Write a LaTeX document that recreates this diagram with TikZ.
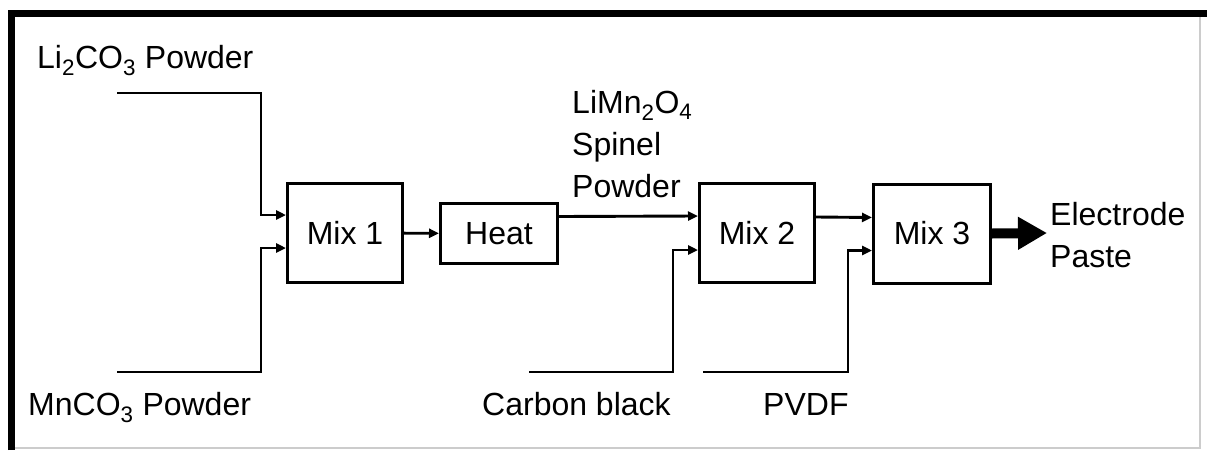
\documentclass[tikz,border=0pt]{standalone}
\usepackage{fontspec}
\setmainfont{Liberation Sans}
\usepackage{tikz}
\usetikzlibrary{arrows.meta,calc}

\begin{document}
\begin{tikzpicture}[x=1pt, y=-1pt,
  box/.style={draw, line width=3pt, minimum width=115pt, minimum height=99pt, inner sep=0pt},
  lab/.style={font=\fontsize{32}{42}\selectfont, inner sep=0pt, align=left},
  arr/.style={-{Triangle[length=10pt,width=9pt]}, line width=2.9pt},
  fat/.style={-{Triangle[length=29pt,width=31pt]}, line width=10pt}]
\useasboundingbox (0,0) rectangle (1207,450);
\tikzset{every node/.append style={font=\fontsize{32}{42}\selectfont}}
% frame
\draw[gray!40, line width=1.5pt] (1200,13) -- (1200,448) -- (11,448);
\draw[line width=6.7pt] (11.7,450) -- (11.7,13.3) -- (1207,13.3);
% process boxes
\node[box] (mix1) at (345,233) {Mix 1};
\node[box, minimum width=117pt, minimum height=60pt] (heat) at (499,233.5) {Heat};
\node[box] (mix2) at (757,233) {Mix 2};
\node[box, minimum width=117pt] (mix3) at (932,233.5) {Mix 3};
% labels
\node[lab, anchor=base west] (li)     at (37,68)   {Li\textsubscript{2}CO\textsubscript{3} Powder};
\node[lab, anchor=base west] (mn)     at (28,415)  {MnCO\textsubscript{3} Powder};
\node[lab, anchor=base west] (cb)     at (482,415) {Carbon black};
\node[lab, anchor=base west] (pvdf)   at (763,415) {PVDF};
\node[lab, anchor=base west] (spinel) at (572,197) {LiMn\textsubscript{2}O\textsubscript{4}\\Spinel\\Powder};
\node[lab, anchor=base west] (elec)   at (1050,267) {Electrode\\Paste};
% feed lines
\coordinate (li-in) at (117,93);
\coordinate (mn-in) at (117,372);
\coordinate (cb-in) at (529,372);
\coordinate (pv-in) at (703,372);
\draw[arr] (li-in) -| ($(mix1.west)+(-25,-18)$) -- ($(mix1.west)+(0,-18)$);
\draw[arr] (mn-in) -| ($(mix1.west)+(-25,15)$) -- ($(mix1.west)+(0,15)$);
\draw[arr] (mix1) -- (heat);
\draw[arr] ($(heat.east)+(0,-17)$) -- ($(mix2.west)+(0,-17)$);
\draw[arr] (cb-in) -| ($(mix2.west)+(-25,17)$) -- ($(mix2.west)+(0,17)$);
\draw[arr] ($(mix2.east)+(0,-16)$) -- ($(mix3.west)+(0,-16)$);
\draw[arr] (pv-in) -| ($(mix3.west)+(-24,17)$) -- ($(mix3.west)+(0,17)$);
\draw[fat] (mix3.east) -- (1047,233);
\end{tikzpicture}
\end{document}
